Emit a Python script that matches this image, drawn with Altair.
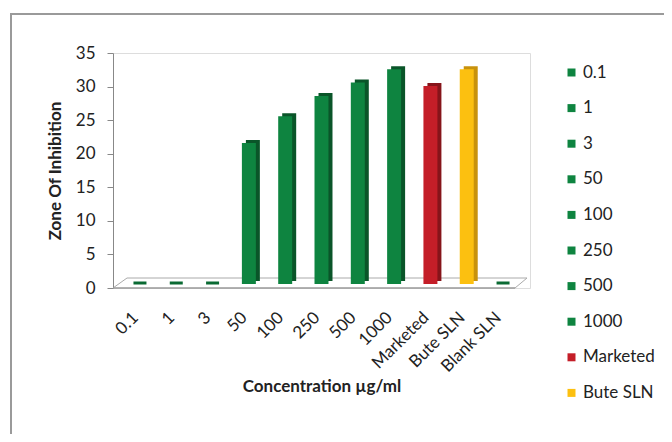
import altair as alt
import pandas as pd

categories = ["0.1", "1", "3", "50", "100", "250", "500", "1000", "Marketed", "Bute SLN", "Blank SLN"]
values = [0, 0, 0, 21, 25, 28, 30, 32, 29.5, 32, 0]
front_colors = ["#0E8440"] * 8 + ["#C41E28", "#FCC010", "#0E8440"]
side_colors = ["#0A5529"] * 8 + ["#86141A", "#C8920C", "#0A5529"]
legend_values = categories[:-1]

df = pd.DataFrame({"cat": categories, "val": values})
FONT = "Lato"
W, H = 417, 235
FS = 17

xenc = alt.X("cat:N", sort=categories,
             scale=alt.Scale(paddingInner=0.615, paddingOuter=0.55),
             axis=alt.Axis(title="Concentration µg/ml", labelAngle=-45, labelFontSize=FS,
                           labelFont=FONT, labelColor="#222", labelPadding=21, ticks=False,
                           labelOffset=-10,
                           domain=False, titleFont=FONT, titleFontSize=FS,
                           titleFontWeight="bold", titleColor="#222", titlePadding=4))
yenc = alt.Y("val:Q", scale=alt.Scale(domain=[0, 35]),
             axis=alt.Axis(title="Zone Of Inhibition", values=[0, 5, 10, 15, 20, 25, 30, 35],
                           labelFontSize=FS, labelFont=FONT, labelColor="#222", tickSize=6,
                           tickColor="#888", domainColor="#888", labelPadding=12, grid=False,
                           titleFont=FONT, titleFontSize=FS, titleFontWeight="bold",
                           titleColor="#222", titlePadding=11))

base = alt.Chart(df)
one = alt.Chart(pd.DataFrame({"a": [0]}))

frame = one.mark_rect(
    fill="white", fillOpacity=0, stroke="#9a9a9a", strokeWidth=2
).encode(x=alt.value(-102), x2=alt.value(W + 200), y=alt.value(-39), y2=alt.value(H + 200))

floor_front = one.mark_rule(color="#999", strokeWidth=1.5).encode(
    x=alt.value(0), x2=alt.value(402), y=alt.value(H), y2=alt.value(H))
floor_back = one.mark_rule(color="#aaa").encode(
    x=alt.value(14), x2=alt.value(414), y=alt.value(H - 10), y2=alt.value(H - 10))
floor_left = one.mark_rule(color="#aaa").encode(
    x=alt.value(0), x2=alt.value(14), y=alt.value(H), y2=alt.value(H - 10))
floor_right = one.mark_rule(color="#aaa").encode(
    x=alt.value(402), x2=alt.value(414), y=alt.value(H), y2=alt.value(H - 10))

side = base.transform_filter("datum.val > 0").mark_bar(xOffset=4, yOffset=-7).encode(
    x=xenc, y=yenc,
    color=alt.Color("cat:N", scale=alt.Scale(domain=categories, range=side_colors), legend=None))

front = base.transform_filter("datum.val > 0").mark_bar(yOffset=-4).encode(
    x=xenc, y=yenc,
    color=alt.Color("cat:N", sort=categories,
                    scale=alt.Scale(domain=categories, range=front_colors),
                    legend=alt.Legend(title=None, values=legend_values, orient="none",
                                      legendX=450, legendY=11, symbolType="square",
                                      symbolSize=64, symbolStrokeWidth=0, labelFont=FONT,
                                      labelFontSize=FS, labelColor="#222", rowPadding=17.6,
                                      labelOffset=3)))

zeros = base.transform_filter("datum.val == 0").mark_tick(
    color="#0A6A33", opacity=1, thickness=3, size=13, yOffset=-5).encode(x=xenc, y=yenc)

chart = alt.layer(frame, floor_back, floor_left, floor_right, floor_front, side, front, zeros
                  ).resolve_scale(color="independent").properties(
    width=W, height=H,
    autosize=alt.AutoSizeParams(type="none"),
    padding={"left": 105, "top": 45, "right": 134, "bottom": 146},
).configure_view(stroke=None).configure(background="white")

chart.save("out.html", embed_options={"renderer": "svg", "actions": False})
